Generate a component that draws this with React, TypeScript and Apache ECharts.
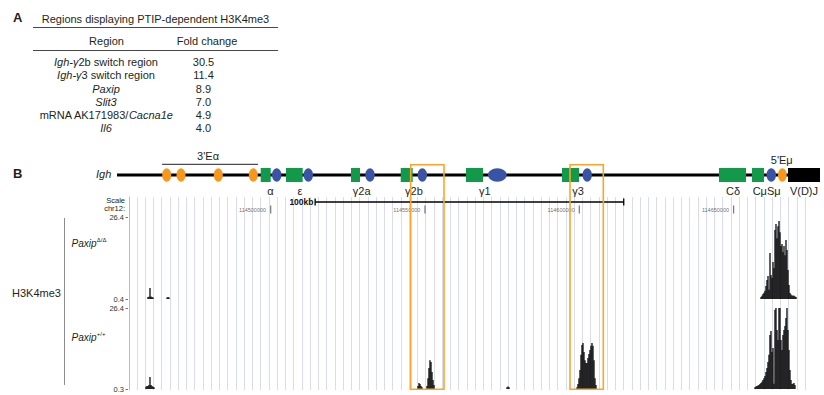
import React, { useEffect, useRef } from "react";
import * as echarts from "echarts";

// ---------------- Panel A data ----------------
const tableTitle = "Regions displaying PTIP-dependent H3K4me3";
const tableHeaders = ["Region", "Fold change"];
const regionLabels = [
  "{i|Igh-γ}2b switch region",
  "{i|Igh-γ}3 switch region",
  "{i|Paxip}",
  "{i|Slit3}",
  "mRNA AK171983/{i|Cacna1e}",
  "{i|Il6}",
];
const foldChanges = [30.5, 11.4, 8.9, 7.0, 4.9, 4.0];

// ---------------- Panel B data (chr12, kb) ----------------
const backboneKb = [114450.2, 114678.0];
const enhancers = [
  [114464.84, 114467.76],
  [114469.48, 114472.39],
  [114481.56, 114484.48],
  [114492.9, 114495.82],
  [114664.39, 114667.21],
];
const constantExons = [
  [114496.76, 114500.0],
  [114504.96, 114510.37],
  [114526.02, 114528.94],
  [114542.13, 114546.01],
  [114563.29, 114568.79],
  [114594.39, 114599.9],
  [114645.27, 114654.02],
  [114655.96, 114659.85],
];
const switchRegions = [
  [114500.42, 114503.47],
  [114510.66, 114513.71],
  [114530.65, 114533.7],
  [114547.6, 114550.65],
  [114570.41, 114576.47],
  [114601.04, 114604.08],
  [114660.66, 114663.74],
];
const vdjSegment = [114667.63, 114678.0];
const geneLabels = [
  { text: "α", kb: 114499.9 },
  { text: "ε", kb: 114509.5 },
  { text: "γ2a", kb: 114529.5 },
  { text: "γ2b", kb: 114546.4 },
  { text: "γ1", kb: 114569.4 },
  { text: "γ3", kb: 114599.6 },
  { text: "Cδ", kb: 114649.8 },
  { text: "CμSμ", kb: 114660.7 },
  { text: "V(D)J", kb: 114672.8 },
];
const enhancer3Label = { text: "3'Eα", kb: 114479.7, spanKb: [114464.8, 114495.9] };
const enhancer5Label = { text: "5'Eμ", kb: 114665.6 };
const highlightRegions = [
  [114545.37, 114556.16],
  [114596.99, 114607.78],
];
const rulerTicksKb = [114500, 114550, 114600, 114650];
const scaleBarKb = [114514.4, 114614.4];
const scaleBarLabel = "100kb";

// H3K4me3 coverage (fixed-step wiggle, one value per bin)
const BIN_KB = 0.324;
const track1Ticks = [0.4, 26.4];
const track2Ticks = [0.3, 26.4];
const trackKO = [
  { start: 114460.24, values: [1.0, 1.1, 3.9, 1.2, 1.0, 0.9] },
  { start: 114466.4, values: [0.9, 1.0, 0.9] },
  {
    start: 114658.88,
    values: [
      1.0, 1.4, 2.0, 2.4, 3.0, 4.5, 6.4, 7.7, 3.3, 15.0, 8.0, 7.1, 12.1, 10.2, 22.3, 24.2, 19.7,
      23.5, 25.1, 21.6, 17.2, 17.8, 15.3, 17.2, 14.3, 19.1, 15.9, 9.6, 4.8, 2.3, 1.8, 1.4, 1.5,
      1.4, 1.2, 1.0,
    ],
  },
];
const trackWT = [
  { start: 114459.59, values: [1.0, 1.3, 1.3, 1.6, 4.2, 1.6, 1.3, 1.0, 0.9] },
  {
    start: 114547.73,
    values: [1.3, 2.2, 1.9, 1.3, 0.9, 0.3, 0.3, 0.3, 0.3, 1.3, 3.8, 7.1, 9.6, 9.0, 5.8, 3.2, 1.6],
  },
  { start: 114576.57, values: [0.9, 1.1, 0.9] },
  {
    start: 114599.25,
    values: [
      0.9, 1.9, 3.8, 6.4, 11.3, 14.5, 15.1, 12.2, 9.6, 8.7, 8.7, 10.3, 11.6, 12.9, 14.2, 15.1,
      14.2, 9.6, 3.8, 1.6,
    ],
  },
  {
    start: 114656.93,
    values: [
      0.9, 1.1, 1.3, 1.4, 1.6, 1.9, 2.2, 2.6, 3.2, 3.8, 4.5, 5.8, 7.1, 9.0, 11.3, 17.7, 19.0, 12.2,
      13.5, 2.0, 25.8, 26.4, 19.3, 16.1, 26.4, 26.4, 16.1, 12.9, 17.7, 19.3, 20.6, 23.2, 26.4, 19.3,
      12.9, 6.4, 3.2, 1.9, 2.0, 2.2, 1.6,
    ],
  },
];

// ---------------- layout ----------------
const W = 824;
const H = 395;
const FONT = '"Liberation Sans", Arial, Helvetica, sans-serif';
const INK = "#231f20";
const PX_PER_KB = 3.086;
const REF_KB = 114500;
const REF_PX = 270.7;
const kbAt = (px: number) => REF_KB + (px - REF_PX) / PX_PER_KB;
const TRACK_L = 128;
const TRACK_R = 805;
const MAP_L = 117;
const MAP_R = 820;

const flatten = (peaks: { start: number; values: number[] }[]) =>
  peaks.flatMap((p) => p.values.map((v, i) => [p.start + i * BIN_KB, v]));

function buildOption(): any {
  const trackX = { type: "value", min: kbAt(TRACK_L), max: kbAt(TRACK_R), show: false };
  const mapX = { type: "value", min: kbAt(MAP_L), max: kbAt(MAP_R), show: false };
  const trackY = (ticks: number[]) => ({
    type: "value",
    min: ticks[0],
    max: ticks[1],
    axisLine: { show: false },
    axisTick: { show: true, length: 2.5, lineStyle: { color: "#777" }, customValues: ticks },
    axisLabel: {
      show: true,
      customValues: ticks,
      fontSize: 7.5,
      lineHeight: 8,
      color: "#333",
      fontFamily: FONT,
      margin: 4,
      formatter: (v: number) => v.toFixed(1),
    },
    splitLine: { show: false },
  });

  const mapElements = [
    ...enhancers.map((r) => [r[0], r[1], 0]),
    ...constantExons.map((r) => [r[0], r[1], 1]),
    ...switchRegions.map((r) => [r[0], r[1], 2]),
    [vdjSegment[0], vdjSegment[1], 3],
  ];
  const kindColor = ["#f7981d", "#12994a", "#3a54a5", "#000000"];
  const allMapLabels = [
    ...geneLabels.map((g) => ({ text: g.text, kb: g.kb, y: 31 })),
    { text: enhancer3Label.text, kb: enhancer3Label.kb, y: -4 },
    { text: enhancer5Label.text, kb: enhancer5Label.kb, y: 0 },
  ];

  const t = (x: number, y: number, text: string, extra: any = {}) => ({
    type: "text",
    x,
    y,
    style: {
      text,
      fill: INK,
      fontSize: 11,
      fontFamily: FONT,
      align: "left",
      verticalAlign: "middle",
      ...extra,
    },
  });
  const rowY = (i: number) => 62.3 + i * 13.1;

  const graphics: any[] = [
    t(13, 17, "A", { fontSize: 13, fontWeight: "bold" }),
    t(155.5, 18.5, tableTitle, { align: "center" }),
    { type: "line", shape: { x1: 33, y1: 27.5, x2: 278, y2: 27.5 }, style: { stroke: "#333", lineWidth: 0.9 } },
    t(106.5, 41, tableHeaders[0], { align: "center" }),
    t(207, 41, tableHeaders[1], { align: "center" }),
    { type: "line", shape: { x1: 33, y1: 50.5, x2: 278, y2: 50.5 }, style: { stroke: "#333", lineWidth: 0.9 } },
    ...regionLabels.map((r, i) =>
      t(106, rowY(i), r, {
        align: "center",
        rich: { i: { fontStyle: "italic", fontSize: 11, fontFamily: FONT, fill: INK } },
      })
    ),
    ...foldChanges.map((v, i) => t(203.5, rowY(i), v.toFixed(1), { align: "center" })),
    t(13, 173, "B", { fontSize: 13, fontWeight: "bold" }),
    t(96, 174, "Igh", { fontStyle: "italic" }),
    t(125, 200.2, "Scale", { align: "right", fontSize: 7.5, lineHeight: 8, fill: "#222" }),
    t(125, 208.5, "chr12:", { align: "right", fontSize: 7.5, lineHeight: 8, fill: "#222" }),
    t(12, 293, "H3K4me3", { fontSize: 11 }),
    { type: "line", shape: { x1: 64.5, y1: 218, x2: 64.5, y2: 385 }, style: { stroke: "#8c8c8c", lineWidth: 1 } },
    t(71.5, 243, "Paxip", { fontStyle: "italic", fontSize: 10 }),
    t(96.8, 239.5, "Δ/Δ", { fontSize: 6 }),
    t(71.5, 337.5, "Paxip", { fontStyle: "italic", fontSize: 10 }),
    t(96.8, 334, "+/+", { fontSize: 6 }),
  ];

  return {
    animation: false,
    backgroundColor: "#ffffff",
    textStyle: { fontFamily: FONT },
    grid: [
      { left: 128.75, right: W - TRACK_R, top: 197, bottom: H - 390 },
      { left: MAP_L, right: W - MAP_R, top: 160, height: 30 },
      { left: TRACK_L, right: W - TRACK_R, top: 197, height: 20 },
      { left: TRACK_L, right: W - TRACK_R, top: 217, height: 82 },
      { left: TRACK_L, right: W - TRACK_R, top: 308, height: 81 },
      { left: TRACK_L, right: W - TRACK_R, top: 164.7, bottom: H - 389.3 },
    ],
    xAxis: [
      {
        gridIndex: 0,
        type: "value",
        min: 0,
        max: 82,
        interval: 1,
        axisLine: { show: false },
        axisTick: { show: false },
        axisLabel: { show: false },
        splitLine: { show: true, lineStyle: { color: "#d9dbf1", width: 1 } },
      },
      { gridIndex: 1, ...mapX },
      { gridIndex: 2, ...trackX },
      { gridIndex: 3, ...trackX },
      { gridIndex: 4, ...trackX },
      { gridIndex: 5, ...trackX },
    ],
    yAxis: [
      {
        gridIndex: 0,
        type: "value",
        min: 0,
        max: 1,
        axisLine: { show: true, onZero: false, lineStyle: { color: "#f4a3a3", width: 1 } },
        axisTick: { show: false },
        axisLabel: { show: false },
        splitLine: { show: false },
      },
      { gridIndex: 1, type: "value", min: 0, max: 30, inverse: true, show: false },
      { gridIndex: 2, type: "value", min: 0, max: 20, inverse: true, show: false },
      { gridIndex: 3, ...trackY(track1Ticks) },
      { gridIndex: 4, ...trackY(track2Ticks) },
      { gridIndex: 5, type: "value", min: 0, max: 1, show: false },
    ],
    series: [
      {
        type: "line",
        xAxisIndex: 1,
        yAxisIndex: 1,
        data: [
          [backboneKb[0], 15],
          [backboneKb[1], 15],
        ],
        symbol: "none",
        lineStyle: { color: "#000", width: 3 },
        z: 2,
        silent: true,
      },
      {
        type: "line",
        xAxisIndex: 1,
        yAxisIndex: 1,
        data: [
          [enhancer3Label.spanKb[0], 4.3],
          [enhancer3Label.spanKb[1], 4.3],
        ],
        symbol: "none",
        lineStyle: { color: INK, width: 1 },
        z: 2,
        silent: true,
      },
      {
        type: "custom",
        xAxisIndex: 1,
        yAxisIndex: 1,
        data: mapElements,
        z: 3,
        silent: true,
        renderItem: (params: any, api: any) => {
          const kind = api.value(2);
          const a = api.coord([api.value(0), 15]);
          const b = api.coord([api.value(1), 15]);
          const fill = kindColor[kind];
          if (kind === 0 || kind === 2) {
            return {
              type: "ellipse",
              shape: { cx: (a[0] + b[0]) / 2, cy: a[1], rx: (b[0] - a[0]) / 2, ry: 6.7 },
              style: { fill },
            };
          }
          return {
            type: "rect",
            shape: { x: a[0], y: a[1] - 7, width: b[0] - a[0], height: 14 },
            style: { fill },
          };
        },
      },
      {
        type: "custom",
        xAxisIndex: 1,
        yAxisIndex: 1,
        data: allMapLabels.map((l) => [l.kb, l.y]),
        z: 4,
        silent: true,
        renderItem: (params: any, api: any) => {
          const p = api.coord([api.value(0), api.value(1)]);
          const lab = allMapLabels[params.dataIndex];
          return {
            type: "text",
            x: p[0],
            y: p[1],
            style: {
              text: lab.text,
              fill: INK,
              fontSize: 11,
              fontFamily: FONT,
              align: "center",
              verticalAlign: "middle",
            },
          };
        },
      },
      {
        type: "scatter",
        xAxisIndex: 2,
        yAxisIndex: 2,
        data: rulerTicksKb.map((k) => [k, 12.5]),
        symbol: "rect",
        symbolSize: [1.2, 8],
        itemStyle: { color: "#555" },
        silent: true,
        z: 3,
        label: {
          show: true,
          position: "left",
          distance: 4,
          fontSize: 5.5,
          color: "#444",
          fontFamily: FONT,
          formatter: (p: any) => String(Math.round(p.value[0] * 1000)),
        },
      },
      {
        type: "line",
        xAxisIndex: 2,
        yAxisIndex: 2,
        data: [
          {
            value: [scaleBarKb[0], 5],
            label: {
              show: true,
              position: "left",
              distance: 1,
              formatter: scaleBarLabel,
              fontSize: 8.5,
              fontWeight: "bold",
              color: "#111",
              fontFamily: FONT,
            },
          },
          { value: [scaleBarKb[1], 5] },
        ],
        symbol: "rect",
        symbolSize: [1.3, 7],
        showSymbol: true,
        itemStyle: { color: "#000" },
        lineStyle: { color: "#000", width: 1.3 },
        silent: true,
        z: 3,
      },
      {
        type: "bar",
        xAxisIndex: 3,
        yAxisIndex: 3,
        data: flatten(trackKO),
        barWidth: 1.25,
        itemStyle: { color: "#000" },
        clip: true,
        silent: true,
        z: 3,
      },
      {
        type: "bar",
        xAxisIndex: 4,
        yAxisIndex: 4,
        data: flatten(trackWT),
        barWidth: 1.25,
        itemStyle: { color: "#000" },
        clip: true,
        silent: true,
        z: 3,
      },
      {
        type: "custom",
        xAxisIndex: 5,
        yAxisIndex: 5,
        data: highlightRegions.map((r) => [r[0], r[1]]),
        z: 10,
        silent: true,
        renderItem: (params: any, api: any) => {
          const a = api.coord([api.value(0), 1]);
          const b = api.coord([api.value(1), 0]);
          return {
            type: "rect",
            shape: { x: a[0], y: a[1], width: b[0] - a[0], height: b[1] - a[1] },
            style: { fill: "none", stroke: "#f9a62b", lineWidth: 1.6 },
          };
        },
      },
    ],
    graphic: { elements: graphics },
  };
}

export default function App() {
  const ref = useRef<HTMLDivElement>(null);
  useEffect(() => {
    if (!ref.current) return;
    const chart = echarts.init(ref.current, undefined, { renderer: "svg" });
    chart.setOption(buildOption());
    return () => chart.dispose();
  }, []);
  return (
    <div
      ref={ref}
      style={{ position: "fixed", left: 0, top: 0, width: W, height: H, background: "#fff" }}
    />
  );
}
